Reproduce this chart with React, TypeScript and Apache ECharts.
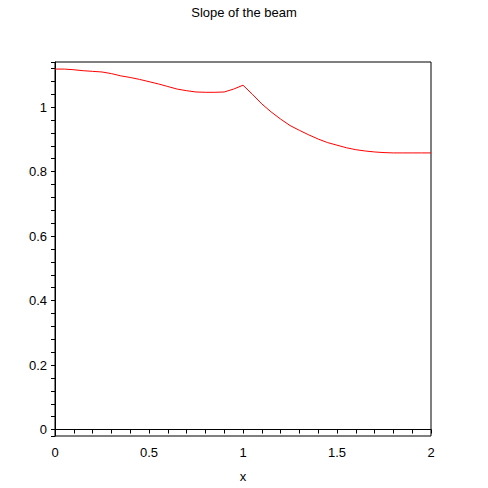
import React, { useEffect, useRef } from "react";
import * as echarts from "echarts";

const xValues = [0, 0.05, 0.1, 0.15, 0.2, 0.25, 0.3, 0.35, 0.4, 0.45, 0.5, 0.55, 0.6, 0.65, 0.7, 0.75, 0.8, 0.85, 0.9, 0.95, 1.0, 1.05, 1.1, 1.15, 1.2, 1.25, 1.3, 1.35, 1.4, 1.45, 1.5, 1.55, 1.6, 1.65, 1.7, 1.75, 1.8, 1.85, 1.9, 1.95, 2.0];
const slopeValues = [1.118, 1.118, 1.116, 1.113, 1.111, 1.109, 1.104, 1.097, 1.092, 1.086, 1.079, 1.072, 1.064, 1.056, 1.051, 1.047, 1.046, 1.046, 1.047, 1.056, 1.068, 1.040, 1.010, 0.985, 0.963, 0.943, 0.928, 0.914, 0.901, 0.890, 0.882, 0.874, 0.868, 0.864, 0.861, 0.859, 0.858, 0.858, 0.858, 0.858, 0.858];

const titleText = "Slope of the beam";
const xName = "x";

export default function App() {
  const ref = useRef<HTMLDivElement>(null);
  useEffect(() => {
    if (!ref.current) return;
    const chart = echarts.init(ref.current, null, { renderer: "svg" });
    const font = "'Liberation Sans', Arial, sans-serif";
    chart.setOption({
      animation: false,
      backgroundColor: "#ffffff",
      title: {
        text: titleText,
        left: "center",
        top: 1,
        textStyle: { fontFamily: font, fontSize: 13, fontWeight: "normal", color: "#000" },
      },
      grid: {
        left: 55,
        right: 57,
        top: 62,
        bottom: 49,
        show: true,
        borderColor: "#000",
        borderWidth: 1,
        containLabel: false,
      },
      xAxis: {
        type: "value",
        min: 0,
        max: 2,
        interval: 0.5,
        name: xName,
        nameLocation: "middle",
        nameGap: 34,
        nameTextStyle: { fontFamily: font, fontSize: 13, color: "#000" },
        axisLine: { show: true, lineStyle: { color: "#000", width: 1 } },
        axisTick: { show: true, length: 4, inside: false, lineStyle: { color: "#000" } },
        minorTick: { show: true, splitNumber: 5, length: 4, lineStyle: { color: "#000" } },
        splitLine: { show: false },
        axisLabel: {
          fontFamily: font,
          fontSize: 13,
          color: "#000",
          margin: 10,
          formatter: (v: number) => String(v),
        },
      },
      yAxis: {
        type: "value",
        min: -0.02,
        max: 1.14,
        splitNumber: 6,
        axisLine: { show: true, onZero: false, lineStyle: { color: "#000", width: 1 } },
        axisTick: { show: true, length: 4, inside: false, lineStyle: { color: "#000" } },
        minorTick: { show: true, splitNumber: 5, length: 4, lineStyle: { color: "#000" } },
        splitLine: { show: false },
        axisLabel: {
          fontFamily: font,
          fontSize: 13,
          color: "#000",
          margin: 8,
          showMinLabel: false,
          showMaxLabel: false,
          formatter: (v: number) => String(Math.round(v * 100) / 100),
        },
      },
      series: [
        {
          type: "line",
          data: xValues.map((x, i) => [x, slopeValues[i]]),
          showSymbol: false,
          symbol: "none",
          lineStyle: { color: "#ff0000", width: 1 },
          itemStyle: { color: "#ff0000" },
        },
      ],
    });
    return () => chart.dispose();
  }, []);
  return (
    <div
      ref={ref}
      style={{ position: "fixed", left: 0, top: 0, width: 488, height: 488, background: "#fff" }}
    />
  );
}
